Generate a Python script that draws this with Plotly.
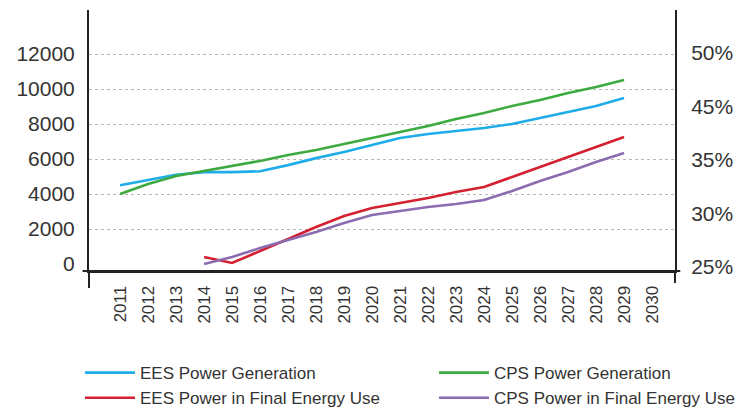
import plotly.graph_objects as go

years = list(range(2011, 2030))
year_ticks = list(range(2011, 2031))

ees_generation = [4500, 4800, 5100, 5250, 5250, 5300, 5650, 6050, 6400, 6800,
                  7200, 7430, 7600, 7770, 8000, 8340, 8690, 9030, 9490]
cps_generation = [4000, 4570, 5030, 5310, 5600, 5890, 6230, 6510, 6860, 7200,
                  7540, 7890, 8290, 8630, 9030, 9370, 9770, 10110, 10510]
final_years = list(range(2014, 2030))
ees_final = [400, 60, 740, 1430, 2110, 2740, 3200, 3490, 3770, 4110,
             4400, 4970, 5540, 6110, 6690, 7260]
cps_final = [0, 400, 910, 1370, 1830, 2340, 2800, 3030, 3260, 3430,
             3660, 4170, 4740, 5260, 5830, 6340]

left_ticks = [0, 2000, 4000, 6000, 8000, 10000, 12000]
grid_vals = [2000, 4000, 6000, 8000, 10000, 12000]
right_tickvals = [25, 30, 35, 40, 45]
right_ticktext = ["25%", "30%", "35%", "45%", "50%"]

# (name, x, y, colour, legend)
series = [
    ("EES Power Generation", years, ees_generation, "#1EADE8", "legend"),
    ("CPS Power Generation", years, cps_generation, "#3DAA3F", "legend2"),
    ("EES Power in Final Energy Use", final_years, ees_final, "#D42030", "legend"),
    ("CPS Power in Final Energy Use", final_years, cps_final, "#8B6CB0", "legend2"),
]

FONT = "Liberation Sans, Arial, sans-serif"
TXT = "#333333"
AX = "#222222"

fig = go.Figure()
for name, xs, ys, col, lg in series:
    fig.add_trace(go.Scatter(x=xs, y=ys, mode="lines", name=name, legend=lg,
                             line=dict(color=col, width=2.6)))
# empty trace to activate the right-hand axis
fig.add_trace(go.Scatter(x=[], y=[], yaxis="y2", showlegend=False, hoverinfo="skip"))

legend_common = dict(
    orientation="v", xanchor="left", yanchor="top",
    font=dict(size=17, color=TXT), itemwidth=50, tracegroupgap=0,
    bgcolor="rgba(0,0,0,0)", borderwidth=0,
)

# page body has an 8px margin: figure is drawn at (8, 8)
fig.update_layout(
    width=742, height=399,
    margin=dict(l=81, r=75, t=2, b=136, autoexpand=False),
    paper_bgcolor="white", plot_bgcolor="white",
    font=dict(family=FONT, color=TXT),
    showlegend=True,
    xaxis=dict(
        range=[2009.89, 2030.82], tickvals=year_ticks,
        ticktext=[str(y) for y in year_ticks], tickangle=-90,
        tickfont=dict(size=17, color=TXT), showgrid=False, zeroline=False,
        showline=True, linecolor=AX, linewidth=2, ticks="",
        ticklabelstandoff=6, automargin=False,
    ),
    yaxis=dict(
        range=[-400, 14514], tickvals=left_ticks, tickformat="d",
        tickfont=dict(size=21, color=TXT), showgrid=False, zeroline=False,
        showline=True, linecolor=AX, linewidth=2, ticks="",
        ticklabelstandoff=8, automargin=False,
        minor=dict(tickvals=grid_vals, showgrid=True, gridcolor="#b8b8b8",
                   griddash="dot", gridwidth=1, ticks=""),
    ),
    yaxis2=dict(
        overlaying="y", side="right", range=[24.626, 49.02],
        tickvals=right_tickvals, ticktext=right_ticktext,
        tickfont=dict(size=21, color=TXT), showgrid=False, zeroline=False,
        showline=True, linecolor=AX, linewidth=2, ticks="",
        ticklabelstandoff=10, automargin=False,
    ),
    legend=dict(x=-0.0154, y=-0.322, **legend_common),
    legend2=dict(x=0.5887, y=-0.322, **legend_common),
    shapes=[
        dict(type="line", xref="paper", yref="paper", x0=0, x1=0, y0=0, y1=-0.065,
             line=dict(color=AX, width=2)),
        dict(type="line", xref="paper", yref="paper", x0=1, x1=1, y0=0, y1=-0.046,
             line=dict(color=AX, width=2)),
        dict(type="line", xref="paper", yref="paper", x0=-0.011, x1=1.009, y0=0, y1=0,
             line=dict(color=AX, width=2)),
    ],
)

fig.write_html("out.html")
